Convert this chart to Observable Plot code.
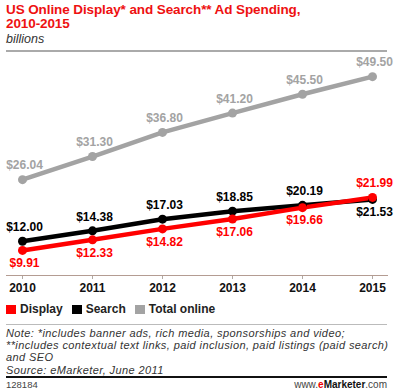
<!DOCTYPE html>
<html>
<head>
<meta charset="utf-8">
<script src="https://cdn.jsdelivr.net/npm/d3@7"></script>
<script src="https://cdn.jsdelivr.net/npm/@observablehq/plot@0.6"></script>
<style>
  body { margin: 0; background: #fff; font-family: "Liberation Sans", Arial, sans-serif; }
  #wrap { position: relative; width: 399px; height: 390px; }
  .title { position: absolute; left: 6px; top: 3px; color: #ee1111; font-weight: bold; font-size: 13.5px; line-height: 14px; letter-spacing: -0.1px; }
  .sub { position: absolute; left: 6px; top: 32px; color: #333; font-style: italic; font-size: 12.5px; }
  .rule1 { position: absolute; left: 6px; top: 50px; width: 381px; height: 2px; background: #aaa; }
  #chart { position: absolute; left: 0; top: 52px; }
  .legend { position: absolute; left: 6px; top: 302px; font-weight: bold; font-size: 12px; color: #222; display: flex; gap: 9px; }
  .legend span.item { display: flex; align-items: center; }
  .legend i { display: inline-block; width: 10px; height: 9px; margin-right: 4px; }
  .rule2 { position: absolute; left: 6px; top: 324px; width: 381px; height: 1px; background: #bbb; }
  .note { position: absolute; left: 6px; top: 327px; font-style: italic; font-size: 11px; line-height: 12.2px; letter-spacing: 0.4px; color: #333; width: 393px; white-space: nowrap; }
  .rule3 { position: absolute; left: 6px; top: 376px; width: 381px; height: 2px; background: #111; }
  .id { position: absolute; left: 6px; top: 379px; font-size: 9.5px; color: #444; }
  .brand { position: absolute; right: 12px; top: 378.5px; font-size: 10px; color: #444; }
  .brand b { color: #111; }
  .brand .e { color: #e00; font-weight: bold; }
</style>
</head>
<body>
<div id="wrap">
  <div class="title">US Online Display* and Search** Ad Spending,<br>2010-2015</div>
  <div class="sub">billions</div>
  <div class="rule1"></div>
  <div id="chart"></div>
  <div class="legend" id="legend"></div>
  <div class="rule2"></div>
  <div class="note">Note: *includes banner ads, rich media, sponsorships and video;<br>**includes contextual text links, paid inclusion, paid listings (paid search)<br>and SEO<br>Source: eMarketer, June 2011</div>
  <div class="rule3"></div>
  <div class="id">128184</div>
  <div class="brand">www.<span class="e">e</span><b>Marketer</b>.com</div>
</div>
<script>
const years = [2010, 2011, 2012, 2013, 2014, 2015];
const display = [9.91, 12.33, 14.82, 17.06, 19.66, 21.99];
const search = [12.00, 14.38, 17.03, 18.85, 20.19, 21.53];
const total = [26.04, 31.30, 36.80, 41.20, 45.50, 49.50];
const seriesNames = ["Display", "Search", "Total online"];
const seriesColors = ["#ff0000", "#000000", "#a3a3a3"];

const rows = [];
years.forEach((yr, i) => {
  rows.push({year: yr, value: display[i], series: "Display", above: display[i] > search[i]});
  rows.push({year: yr, value: search[i], series: "Search", above: search[i] >= display[i]});
  rows.push({year: yr, value: total[i], series: "Total online", above: true});
});
const order = ["Total online", "Search", "Display"];
const sorted = order.flatMap(s => rows.filter(r => r.series === s));
const fmt = v => "$" + v.toFixed(2);

const color = {domain: seriesNames, range: seriesColors};

const chart = Plot.plot({
  width: 399,
  height: 246,
  marginLeft: 6,
  marginRight: 12,
  marginTop: 0,
  marginBottom: 23,
  x: {type: "point", domain: years, padding: 0.22},
  y: {domain: [4.2, 55], axis: null},
  color,
  style: {fontFamily: "Liberation Sans, Arial, sans-serif"},
  marks: [
    Plot.line(sorted, {x: "year", y: "value", z: "series", stroke: "series", strokeWidth: 4.5}),
    Plot.dot(sorted, {x: "year", y: "value", fill: "series", r: 4.5}),
    Plot.text(sorted.filter(d => d.above), {x: "year", y: "value", text: d => fmt(d.value), fill: "series", dy: -14, fontSize: 12, fontWeight: "bold", dx: 2}),
    Plot.text(sorted.filter(d => !d.above), {x: "year", y: "value", text: d => fmt(d.value), fill: "series", dy: 13, fontSize: 12, fontWeight: "bold", dx: 2}),
    Plot.axisX({tickSize: 4, stroke: "#b0a8a4", tickFormat: d => String(d), fontSize: 12, fontWeight: "bold", fill: "#111", tickPadding: 4, label: null}),
    Plot.frame({anchor: "bottom", stroke: "#b49c92"})
  ]
});
document.getElementById("chart").appendChild(chart);

const leg = document.getElementById("legend");
seriesNames.forEach((n, i) => {
  const s = document.createElement("span");
  s.className = "item";
  s.innerHTML = `<i style="background:${seriesColors[i]}"></i>${n}`;
  leg.appendChild(s);
});
</script>
</body>
</html>
